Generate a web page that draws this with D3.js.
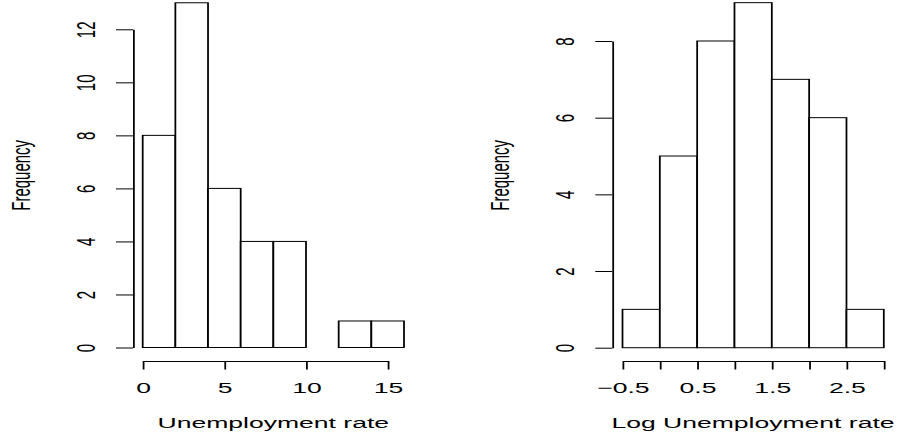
<!DOCTYPE html>
<html>
<head>
<meta charset="utf-8">
<script src="https://cdn.jsdelivr.net/npm/d3@7"></script>
<style>
  html, body { margin: 0; padding: 0; background: #fff; }
  svg { display: block; }
  text { font-family: "Liberation Sans", Helvetica, Arial, sans-serif; fill: #000; }
</style>
</head>
<body>
<svg id="chart" width="898" height="440"></svg>
<script>
// Histogram of unemployment rates: bin edges and counts
const rateBreaks = [0, 2, 4, 6, 8, 10, 12, 14, 16];
const rateCounts = [8, 13, 6, 4, 4, 0, 1, 1];
const rateXTicks = [0, 5, 10, 15];
const rateXLabels = ["0", "5", "10", "15"];
const rateYTicks = [0, 2, 4, 6, 8, 10, 12];

// Histogram of log unemployment rates
const logBreaks = [-0.5, 0, 0.5, 1, 1.5, 2, 2.5, 3];
const logCounts = [1, 5, 8, 9, 7, 6, 1];
const logXTicks = [-0.5, 0, 0.5, 1, 1.5, 2, 2.5, 3];
const logXLabels = ["\u22120.5", "", "0.5", "", "1.5", "", "2.5", ""];
const logYTicks = [0, 2, 4, 6, 8];

const xTitles = ["Unemployment rate", "Log Unemployment rate"];
const yTitle = "Frequency";

// The device is drawn in a narrower frame and stretched horizontally
const S = 1.77;
const ux = v => v / S;
const FONT = 15;

const svg = d3.select("#chart");
const root = svg.append("g").attr("transform", `scale(${S},1)`);

function histogram(p) {
  const g = root.append("g");
  const x = d3.scaleLinear().domain(p.xDomain).range([ux(p.xRange[0]), ux(p.xRange[1])]);
  const y = d3.scaleLinear().domain(p.yDomain).range(p.yRange);

  const bins = p.counts.map((n, i) => ({ x0: p.breaks[i], x1: p.breaks[i + 1], n }));

  g.selectAll("rect.bar")
    .data(bins)
    .join("rect")
    .attr("class", "bar")
    .attr("x", d => x(d.x0))
    .attr("width", d => x(d.x1) - x(d.x0))
    .attr("y", d => y(d.n))
    .attr("height", d => y(0) - y(d.n))
    .attr("fill", "#fff")
    .attr("stroke", "#000")
    .attr("stroke-width", 1);

  // y axis spans from first to last tick
  const yAx = d3.scaleLinear()
    .domain(d3.extent(p.yTicks))
    .range([y(d3.min(p.yTicks)), y(d3.max(p.yTicks))]);
  const gy = g.append("g")
    .attr("transform", `translate(${ux(p.yAxisX)},0)`)
    .call(d3.axisLeft(yAx).tickValues(p.yTicks).tickSize(ux(17)).tickSizeOuter(0).tickFormat(d3.format("d")));
  gy.attr("font-size", null).attr("font-family", null);
  gy.selectAll("path.domain").attr("stroke", "#000");
  gy.selectAll(".tick line").attr("stroke", "#000");
  gy.selectAll(".tick text")
    .attr("x", null).attr("dy", null)
    .attr("text-anchor", "middle")
    .attr("font-size", FONT)
    .attr("fill", "#000")
    .attr("transform", `translate(${ux(p.yLabelX - p.yAxisX)},0) rotate(-90)`);

  // x axis spans from first to last tick
  const xAx = d3.scaleLinear()
    .domain(d3.extent(p.xTicks))
    .range([x(d3.min(p.xTicks)), x(d3.max(p.xTicks))]);
  const gx = g.append("g")
    .attr("transform", `translate(0,${p.xAxisY})`)
    .call(d3.axisBottom(xAx).tickValues(p.xTicks).tickSize(8.5).tickSizeOuter(0)
      .tickFormat((d, i) => p.xLabels[i]));
  gx.attr("font-size", null).attr("font-family", null);
  gx.selectAll("path.domain").attr("stroke", "#000");
  gx.selectAll(".tick line").attr("stroke", "#000");
  gx.selectAll(".tick text")
    .attr("y", p.xLabelY - p.xAxisY).attr("dy", null)
    .attr("text-anchor", "middle")
    .attr("font-size", FONT)
    .attr("fill", "#000");

  // axis titles
  g.append("text")
    .attr("x", ux(p.xTitleX)).attr("y", 428.5)
    .attr("text-anchor", "middle")
    .attr("font-size", FONT)
    .text(p.xTitle);
  g.append("text")
    .attr("transform", `translate(${ux(p.yTitleX)},${p.yTitleY}) rotate(-90)`)
    .attr("text-anchor", "middle")
    .attr("font-size", FONT)
    .text(yTitle);
}

histogram({
  breaks: rateBreaks, counts: rateCounts,
  xDomain: [0, 16], xRange: [142.7, 404],
  yDomain: [0, 12], yRange: [347.5, 29.3],
  xTicks: rateXTicks, xLabels: rateXLabels, yTicks: rateYTicks,
  yAxisX: 133, yLabelX: 95, xAxisY: 361, xLabelY: 393.5,
  xTitle: xTitles[0], xTitleX: 273.3, yTitleX: 30, yTitleY: 175.3
});

histogram({
  breaks: logBreaks, counts: logCounts,
  xDomain: [-0.5, 3], xRange: [622.5, 883.8],
  yDomain: [0, 8], yRange: [347.7, 41],
  xTicks: logXTicks, xLabels: logXLabels, yTicks: logYTicks,
  yAxisX: 612.3, yLabelX: 574, xAxisY: 361, xLabelY: 393.5,
  xTitle: xTitles[1], xTitleX: 753, yTitleX: 509, yTitleY: 175.3
});
</script>
</body>
</html>
